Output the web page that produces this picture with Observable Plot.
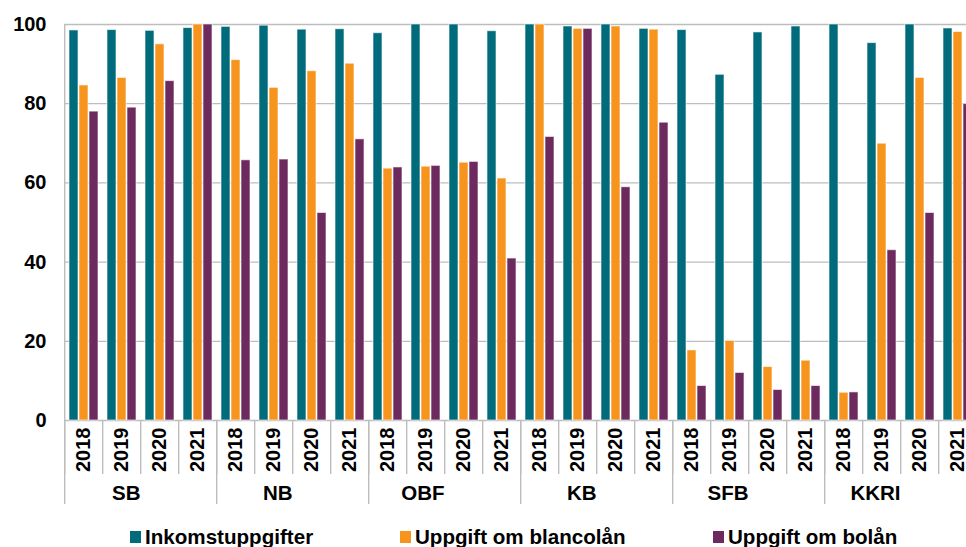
<!DOCTYPE html>
<html>
<head>
<meta charset="utf-8">
<script src="https://cdn.jsdelivr.net/npm/d3@7"></script>
<script src="https://cdn.jsdelivr.net/npm/@observablehq/plot@0.6"></script>
<style>
  html, body { margin: 0; padding: 0; background: #fff; overflow: hidden; }
  #wrap { position: relative; width: 966px; height: 547px; overflow: hidden; }
  #legend { position: absolute; top: 526px; left: 0; width: 966px; height: 22px;
            font: bold 20.6px "Liberation Sans", Arial, sans-serif; color: #000; }
  .item { position: absolute; top: 0; height: 22px; display: flex; align-items: center; white-space: nowrap; }
  .sw { width: 11px; height: 12px; margin-right: 4px; flex: none; }
</style>
</head>
<body>
<div id="wrap"><div id="chart"></div><div id="legend"></div></div>
<script>
// Lenders, years and the three kinds of information (share, per cent)
const groups = ["SB", "NB", "OBF", "KB", "SFB", "KKRI"];
const years = ["2018", "2019", "2020", "2021"];
const seriesNames = ["Inkomstuppgifter", "Uppgift om blancolån", "Uppgift om bolån"];
const seriesColors = ["#006b7a", "#f7941d", "#6c2a5f"];
const yTicks = [0, 20, 40, 60, 80, 100];

// One value per lender-year, in the order SB 2018..2021, NB 2018..2021, ...
const inkomst = [98.5, 98.6, 98.4, 99.1,  99.4, 99.7, 98.7, 98.8,  97.8, 100, 100, 98.3,
                 100, 99.5, 100, 98.9,  98.6, 87.3, 98.0, 99.5,  100, 95.3, 100, 99.0];
const blanco  = [84.6, 86.5, 95.0, 100,  91.0, 84.0, 88.2, 90.1,  63.6, 64.1, 65.1, 61.1,
                 100, 98.9, 99.5, 98.7,  17.7, 20.1, 13.5, 15.1,  7.0, 69.9, 86.5, 98.1];
const bolan   = [78.0, 79.0, 85.7, 100,  65.7, 65.9, 52.4, 71.0,  63.9, 64.3, 65.3, 40.9,
                 71.6, 98.9, 58.9, 75.2,  8.7, 12.0, 7.7, 8.7,  7.1, 43.0, 52.4, 79.9];

const cells = groups.flatMap(g => years.map(y => `${g}|${y}`));
const seriesValues = [inkomst, blanco, bolan];
const rows = cells.flatMap((cell, i) =>
  seriesNames.map((series, k) => ({cell, series, value: seriesValues[k][i]})));
const groupLabels = groups.map(g => ({group: g, cell: `${g}|${years[1]}`}));
const groupStarts = groups.map(g => `${g}|${years[0]}`);

const cellW = 38, marginLeft = 64, marginTop = 24, marginBottom = 90, height = 510;
const frameH = height - marginTop - marginBottom;
const width = marginLeft + cells.length * cellW;
const lineW = 1.4, grey = "#bdbdbd";

const chart = Plot.plot({
  width, height, marginLeft, marginRight: 0, marginTop, marginBottom,
  style: {fontFamily: '"Liberation Sans", Arial, sans-serif', fontSize: "20px", fontWeight: "bold",
          color: "#000", background: "#fff", maxWidth: "none", overflow: "visible"},
  fx: {domain: cells, padding: 0, axis: "bottom", tickRotate: -90, tickSize: 0, tickPadding: 7,
       tickFormat: d => d.split("|")[1], label: null},
  x: {domain: seriesNames, axis: null, paddingInner: 0.12, paddingOuter: 0.3},
  y: {domain: [0, 100], ticks: yTicks, tickSize: 0, tickPadding: 18, label: null},
  color: {domain: seriesNames, range: seriesColors},
  marks: [
    Plot.ruleY(yTicks, {stroke: grey, strokeWidth: 1.3}),
    // separators between years and between lenders below the axis
    Plot.rect(cells, {fx: d => d, fill: grey, insetRight: cellW - lineW, insetTop: frameH, insetBottom: -54}),
    Plot.rect(groupStarts, {fx: d => d, fill: grey, insetRight: cellW - lineW, insetTop: frameH, insetBottom: -84}),
    Plot.rect([cells[0]], {fx: d => d, fill: grey, insetRight: cellW - lineW}),
    Plot.barY(rows, {fx: "cell", x: "series", y: "value", fill: "series",
                     stroke: "white", strokeOpacity: 0.6, strokeWidth: 1}),
    Plot.text(groupLabels, {fx: "cell", text: "group", frameAnchor: "bottom-right", dy: 79,
                            fontSize: 20.5, fontWeight: "bold", fill: "#000"})
  ]
});
document.getElementById("chart").appendChild(chart);

// legend below the chart
const legendLeft = [130, 400, 713];
const legend = d3.select("#legend");
seriesNames.forEach((name, i) => {
  const item = legend.append("div").attr("class", "item").style("left", legendLeft[i] + "px");
  item.append("div").attr("class", "sw").style("background", seriesColors[i]);
  item.append("span").text(name);
});
</script>
</body>
</html>
